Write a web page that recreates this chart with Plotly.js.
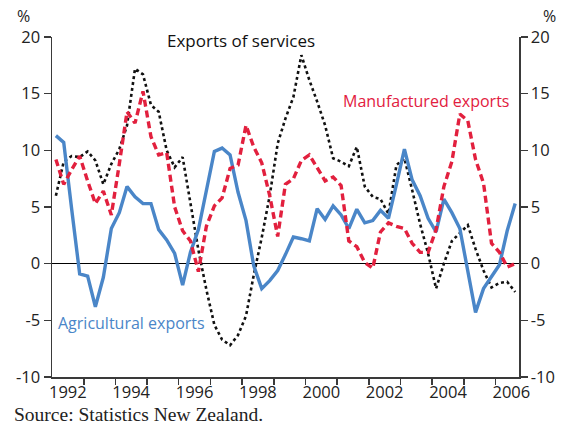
<!DOCTYPE html>
<html>
<head>
<meta charset="utf-8">
<script src="https://cdn.plot.ly/plotly-3.0.1.min.js"></script>
<style>
html,body{margin:0;padding:0;background:#fff;}
#chart{width:563px;height:431px;}
</style>
</head>
<body>
<div id="chart"></div>
<script>
// Quarterly observations, plotted at mid-quarter
const quarters = [
 "1992-02-15","1992-05-15","1992-08-15","1992-11-15",
 "1993-02-15","1993-05-15","1993-08-15","1993-11-15",
 "1994-02-15","1994-05-15","1994-08-15","1994-11-15",
 "1995-02-15","1995-05-15","1995-08-15","1995-11-15",
 "1996-02-15","1996-05-15","1996-08-15","1996-11-15",
 "1997-02-15","1997-05-15","1997-08-15","1997-11-15",
 "1998-02-15","1998-05-15","1998-08-15","1998-11-15",
 "1999-02-15","1999-05-15","1999-08-15","1999-11-15",
 "2000-02-15","2000-05-15","2000-08-15","2000-11-15",
 "2001-02-15","2001-05-15","2001-08-15","2001-11-15",
 "2002-02-15","2002-05-15","2002-08-15","2002-11-15",
 "2003-02-15","2003-05-15","2003-08-15","2003-11-15",
 "2004-02-15","2004-05-15","2004-08-15","2004-11-15",
 "2005-02-15","2005-05-15","2005-08-15","2005-11-15",
 "2006-02-15","2006-05-15","2006-08-15"
];

const agricultural = [
 11.3, 10.7, 4.8, -0.9, -1.1, -3.8, -1.2, 3.1, 4.5, 6.8,
 5.9, 5.3, 5.3, 3.0, 2.1, 0.9, -1.9, 1.0, 3.0, 6.3,
 9.9, 10.2, 9.6, 6.3, 3.8, -0.2, -2.2, -1.5, -0.6, 0.8,
 2.35, 2.2, 2.0, 4.85, 3.9, 5.1, 4.3, 3.1, 4.8, 3.6,
 3.8, 4.7, 4.0, 7.0, 10.1, 7.4, 6.0, 4.0, 2.8, 5.7,
 4.5, 3.1, -0.6, -4.3, -2.2, -1.2, -0.1, 2.9, 5.3
];

const manufactured = [
 9.2, 7.0, 8.3, 9.5, 7.3, 5.3, 6.4, 4.3, 8.8, 13.4,
 12.4, 15.2, 11.2, 9.6, 9.8, 5.0, 2.9, 2.0, -0.7, 3.3,
 5.1, 5.8, 8.4, 8.7, 12.2, 10.3, 8.9, 6.0, 2.4, 7.0,
 7.5, 9.1, 9.6, 8.5, 7.3, 7.65, 6.9, 2.0, 1.5, 0.1,
 -0.4, 2.8, 3.6, 3.3, 3.1, 1.8, 1.0, 1.0, 3.0, 6.8,
 9.0, 13.2, 12.6, 9.2, 7.1, 1.8, 1.0, -0.3, 0.0
];

const services = [
 6.0, 9.0, 9.5, 9.4, 9.9, 9.1, 7.0, 8.8, 10.1, 12.2,
 17.2, 16.7, 14.0, 13.4, 10.0, 8.5, 9.4, 5.5, 1.2, -2.3,
 -5.4, -6.7, -7.2, -6.3, -4.6, -1.0, 2.3, 6.0, 10.6, 12.8,
 14.7, 18.4, 16.2, 14.3, 12.2, 9.3, 9.0, 8.6, 10.3, 6.8,
 5.9, 5.7, 4.4, 8.7, 9.3, 6.5, 3.5, 0.9, -2.2, 0.0,
 2.0, 2.7, 3.4, 1.3, -0.6, -2.1, -1.7, -1.6, -2.5
];

const yearTickLabels = ["1992","1994","1996","1998","2000","2002","2004","2006"];
const yearLabelPos = yearTickLabels.map(y => y + "-07-02");
const yearBoundaries = ["1993","1994","1995","1996","1997","1998","1999","2000","2001","2002","2003","2004","2005","2006"].map(y => y + "-01-01");
const yTicks = [-10, -5, 0, 5, 10, 15, 20];
const yTickLabels = ["-10", "-5", "0", "5", "10", "15", "20"];

const BLUE = "#4a86c8";
const RED = "#e2203e";
const AXIS = "#3a3a3a";
const SANS = "Open Sans, sans-serif";
const tickFont = {family: SANS, size: 16.5, color: "#222"};

const traces = [
  {x: quarters, y: services, type: "scatter", mode: "lines",
   line: {color: "#111", width: 2.6, dash: "dot"}, hoverinfo: "skip", name: "Exports of services"},
  {x: quarters, y: agricultural, type: "scatter", mode: "lines",
   line: {color: BLUE, width: 3.4}, hoverinfo: "skip", name: "Agricultural exports"},
  {x: quarters, y: manufactured, type: "scatter", mode: "lines",
   line: {color: RED, width: 3.4, dash: "7px,4px"}, hoverinfo: "skip", name: "Manufactured exports"},
  {x: quarters, y: services, type: "scatter", mode: "lines", yaxis: "y2",
   line: {color: "rgba(0,0,0,0)", width: 0}, hoverinfo: "skip", showlegend: false}
];

function note(text, x, y, font, xanchor) {
  return {text: text, xref: "paper", yref: "paper", x: x, y: y,
          xanchor: xanchor || "center", yanchor: "middle", showarrow: false, font: font};
}

const layout = {
  width: 563, height: 431,
  margin: {l: 52.3, r: 44, t: 36.7, b: 54.3},
  paper_bgcolor: "#fff", plot_bgcolor: "#fff",
  showlegend: false,
  xaxis: {
    type: "date",
    range: ["1992-01-01", "2006-09-28"],
    tickmode: "array", tickvals: yearLabelPos, ticktext: yearTickLabels,
    ticks: "", showgrid: false, zeroline: false,
    showline: true, linecolor: AXIS, linewidth: 1.5,
    tickfont: tickFont,
    minor: {tickmode: "array", tickvals: yearBoundaries, ticks: "outside", ticklen: 6,
            tickcolor: AXIS, tickwidth: 1.5, showgrid: false}
  },
  yaxis: {
    range: [-10, 20], tickmode: "array", tickvals: yTicks, ticktext: yTickLabels,
    ticks: "outside", ticklen: 7, tickwidth: 1.5, tickcolor: AXIS,
    showline: true, linecolor: AXIS, linewidth: 1.5,
    showgrid: false, zeroline: true, zerolinecolor: "#000", zerolinewidth: 1.2,
    tickfont: tickFont
  },
  yaxis2: {
    overlaying: "y", side: "right",
    range: [-10, 20], tickmode: "array", tickvals: yTicks, ticktext: yTickLabels,
    ticks: "outside", ticklen: 7, tickwidth: 1.5, tickcolor: AXIS,
    showline: true, linecolor: AXIS, linewidth: 1.5,
    showgrid: false, zeroline: false,
    tickfont: tickFont
  },
  annotations: [
    note("Exports of services", 0.404, 0.99, {family: SANS, size: 17, color: "#111"}),
    note("Manufactured exports", 0.80, 0.811, {family: SANS, size: 16, color: RED}),
    note("Agricultural exports", 0.171, 0.158, {family: SANS, size: 16, color: BLUE}),
    note("%", -0.061, 1.062, {family: SANS, size: 16, color: "#222"}),
    note("%", 1.066, 1.062, {family: SANS, size: 16, color: "#222"}),
    note("Source: Statistics New Zealand.", -0.0866, -0.111,
         {family: "Liberation Serif, serif", size: 19.5, color: "#222"}, "left")
  ]
};

Plotly.newPlot("chart", traces, layout, {staticPlot: true, displayModeBar: false});
</script>
</body>
</html>
